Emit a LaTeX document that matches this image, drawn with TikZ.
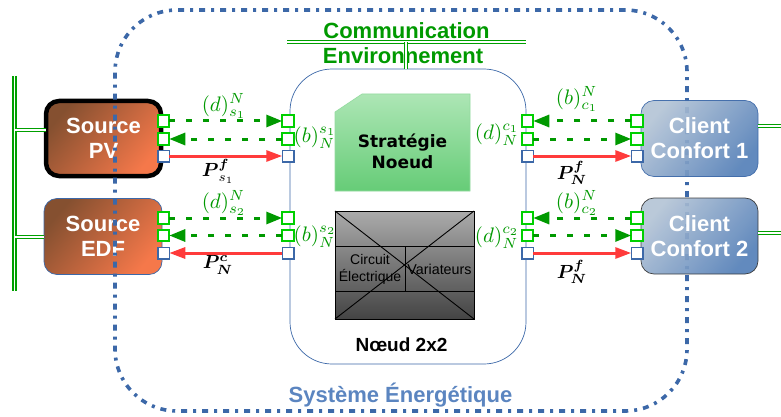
\documentclass[tikz,border=0pt]{standalone}
\usepackage{amsmath}
\usepackage[no-math]{fontspec}
\setmainfont{Liberation Sans}
\newfontfamily\dejavu{DejaVu Sans}
\usetikzlibrary{arrows.meta}
\definecolor{gbus}{HTML}{00A000}
\definecolor{gtxt}{HTML}{009900}
\definecolor{gport}{HTML}{00D000}
\definecolor{bline}{HTML}{5B85C0}
\definecolor{dotblue}{HTML}{3C68A8}
\definecolor{redl}{HTML}{FF3B3B}
\definecolor{srcl}{HTML}{855030}
\definecolor{srcr}{HTML}{F5784A}
\definecolor{clil}{HTML}{B4C4D6}
\definecolor{clir}{HTML}{5580B8}
\definecolor{strt}{HTML}{ADE6B5}
\definecolor{strb}{HTML}{66CC77}
\definecolor{gryt}{HTML}{ABABAB}
\definecolor{gryb}{HTML}{444444}
\newcommand{\fsz}[1]{\fontsize{#1}{#1}\selectfont}
\tikzset{
 x=1pt,y=-1pt,
 bus/.style={double=white,draw=gbus,double distance=1.5pt,line width=1.6pt},
 portg/.style={draw=gport,fill=white,line width=1.8pt,minimum size=11.5pt,inner sep=0pt,outer sep=0pt},
 portb/.style={draw=dotblue,fill=white,line width=1.5pt,minimum size=11.5pt,inner sep=0pt,outer sep=0pt},
 sig/.style={draw=gtxt,line width=3pt,dash pattern=on 6pt off 11pt,-{Triangle[length=16pt,width=12pt,fill=gtxt]}},
 pow/.style={draw=redl,line width=3pt,-{Triangle[length=16pt,width=11pt,fill=redl]}},
 src/.style={draw=dotblue,line width=0.7pt,rounded corners=13pt,left color=srcl,right color=srcr,shading angle=50,minimum width=118pt,minimum height=76pt,inner sep=0pt,outer sep=0pt,align=center,text=white,font=\bfseries\fsz{22}},
 cli/.style={draw=dotblue,line width=0.7pt,rounded corners=13pt,left color=clil,right color=clir,shading angle=50,minimum width=117pt,minimum height=76pt,inner sep=0pt,outer sep=0pt,align=center,text=white,font=\bfseries\fsz{22}},
 mg/.style={text=gtxt,inner sep=0pt,scale=2.1},
 mk/.style={text=black,inner sep=0pt,scale=1.9},
 ttl/.style={inner sep=0pt,font=\bfseries\fsz{22}},
}
\begin{document}
\begin{tikzpicture}
\useasboundingbox (0,0) rectangle (781,417);
\coordinate (lbT) at (14.5,76); \coordinate (lbB) at (14.5,291);
\coordinate (lb1) at (14.5,130); \coordinate (lb2) at (14.5,237);
\coordinate (rb1) at (781,126); \coordinate (rb2) at (781,233);
\coordinate (tbL) at (287,42); \coordinate (tbR) at (526,42);
\coordinate (tbM) at (406,42);
% Source boxes
\node[src,draw=black,line width=4.5pt,minimum width=115pt,minimum height=75pt] (pv) at (103.5,138.5) {Source\\[3pt]PV};
\node[src] (edf) at (103,236.5) {Source\\[3pt]EDF};
% Node box
\node[draw=dotblue,line width=0.7pt,rounded corners=42pt,fill=white,minimum width=236pt,minimum height=295pt,inner sep=0pt,outer sep=0pt] (nd) at (408,216.5) {};
% Titles
\node[ttl,text=gtxt] (com) at (406.5,30.5) {Communication};
\node[ttl,text=gtxt] (env) at (403,56) {Environnement};
\node[ttl,text=bline] (se) at (400.5,395.5) {Système Énergétique};
% Outer system
\node[draw=dotblue,line width=3.6pt,rounded corners=62pt,dash pattern=on 6pt off 6pt on 3pt off 6pt,minimum width=572pt,minimum height=401pt,inner sep=0pt,outer sep=0pt] (sys) at (401,210.5) {};
% Client boxes
\node[cli,opacity=0.92,text opacity=1] (c1) at (699.5,138.5) {Client\\[3pt]Confort 1};
\node[cli,draw=black!80,opacity=0.92,text opacity=1] (c2) at (699.5,236) {Client\\[3pt]Confort 2};
% Buses
\draw[bus] (lbT) -- (lbB);
\draw[bus] (lb1) -- (lb1 -| pv.west);
\draw[bus] (lb2) -- (lb2 -| edf.west);
\draw[bus] (rb1) -- (rb1 -| c1.east);
\draw[bus] (rb2) -- (rb2 -| c2.east);
\draw[bus] (tbL) -- (tbR);
\draw[bus] (tbM) -- (tbM |- nd.north);
% Strategy
\path[draw=strb!70!white,line width=0.6pt,top color=strt,bottom color=strb] (335,112) -- (362,94) -- (470,94) -- (470,191) -- (335,191) -- cycle;
\node[inner sep=0pt,align=center,font=\dejavu\bfseries\fsz{17}] (strattxt) at (402.5,151.5) {Stratégie\\[4pt]Noeud};
% Variators
\node[draw=black,line width=0.9pt,top color=gryt,bottom color=gryb,minimum width=139pt,minimum height=108pt,inner sep=0pt,outer sep=0pt] (var) at (404.5,265) {};
\draw[black,line width=0.9pt] (var.north west) -- (var.south east);
\draw[black,line width=0.9pt] (var.north east) -- (var.south west);
\coordinate (vl1) at (var.west |- 0,246); \coordinate (vr1) at (var.east |- 0,246);
\coordinate (vl2) at (var.west |- 0,291); \coordinate (vr2) at (var.east |- 0,291);
\coordinate (vt) at (405,246); \coordinate (vb) at (405,291);
\draw[black,line width=0.6pt] (vl1) -- (vr1);
\draw[black,line width=0.6pt] (vl2) -- (vr2);
\draw[black,line width=0.6pt] (vt) -- (vb);
\node[inner sep=0pt,align=center,font=\fsz{14}] (circ) at (370,269.5) {Circuit\\[3pt]Électrique};
\node[inner sep=0pt,font=\fsz{14.3}] (vari) at (439.5,269) {Variateurs};
\node[inner sep=0pt,font=\bfseries\fsz{19}] (ndl) at (401.5,345) {Nœud 2x2};
% Ports
\foreach \n/\x in {a/163.5,b/288,c/527.5,d/637}{
 \foreach \i/\y/\s in {1/121/portg,2/139/portg,3/156/portb,4/218/portg,5/235.5/portg,6/253/portb}{
  \node[\s] (\n\i) at (\x,\y) {};
 }
}
% Connectors
\draw[sig] (a1) -- (b1);
\draw[sig] (b2) -- (a2);
\draw[pow] (a3) -- (b3);
\draw[sig] (a4) -- (b4);
\draw[sig] (b5) -- (a5);
\draw[pow] (b6) -- (a6);
\draw[sig] (d1) -- (c1);
\draw[sig] (c2) -- (d2);
\draw[pow] (c3) -- (d3);
\draw[sig] (d4) -- (c4);
\draw[sig] (c5) -- (d5);
\draw[pow] (c6) -- (d6);
% Labels
\node[mg] (l1) at (224,106) {$(d)^{N}_{s_1}$};
\node[mg] (l2) at (224,203) {$(d)^{N}_{s_2}$};
\node[mg] (l3) at (315,138) {$(b)^{s_1}_{N}$};
\node[mg] (l4) at (315,237) {$(b)^{s_2}_{N}$};
\node[mg] (l5) at (497,135) {$(d)^{c_1}_{N}$};
\node[mg] (l6) at (497,238) {$(d)^{c_2}_{N}$};
\node[mg] (l7) at (577,99) {$(b)^{N}_{c_1}$};
\node[mg] (l8) at (577,203) {$(b)^{N}_{c_2}$};
\node[mk] (p1) at (218,171) {$\boldsymbol{P}^{\boldsymbol{f}}_{s_1}$};
\node[mk] (p2) at (218,265) {$\boldsymbol{P^{c}_{N}}$};
\node[mk] (p3) at (572,173) {$\boldsymbol{P^{f}_{N}}$};
\node[mk] (p4) at (572,272) {$\boldsymbol{P^{f}_{N}}$};
\end{tikzpicture}
\end{document}
